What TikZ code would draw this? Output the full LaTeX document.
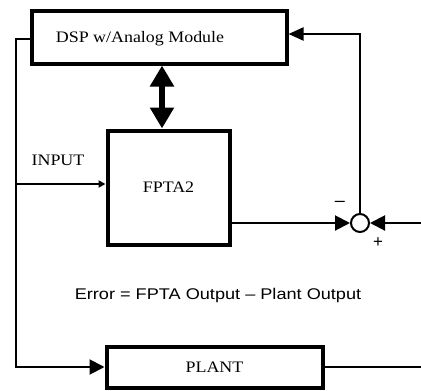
\documentclass[tikz,border=0pt]{standalone}
\usepackage{fontspec}
\setmainfont{Liberation Serif}
\newfontfamily\sansf{Liberation Sans}
\usetikzlibrary{arrows.meta}
\newcommand{\wtxt}[1]{\scalebox{1.12}[1]{#1}}
\begin{document}
\begin{tikzpicture}[x=1pt,y=-1pt,
  blk/.style={draw,line width=4pt,inner sep=0pt,font=\fontsize{16}{18}\selectfont},
  conn/.style={line width=2pt},
  bigtip/.style={-{Triangle[length=15pt,width=15pt]}},
  smalltip/.style={-{Triangle[length=7pt,width=7pt]}},
  lbl/.style={inner sep=0pt,font=\fontsize{16}{18}\selectfont}]
\useasboundingbox[fill=white] (0,0) rectangle (421,391);
% blocks
\node[blk,minimum width=255pt,minimum height=53pt] (dsp) at (159,37) {};
\node[lbl] (dsptxt) at (140,39) {\wtxt{DSP w/Analog Module}};
\node[blk,minimum width=122pt,minimum height=114pt] (fpta) at (168.5,187.5) {\wtxt{FPTA2}};
\node[blk,minimum width=216pt,minimum height=41pt] (plant) at (214.5,367) {\wtxt{PLANT}};
\node[draw,circle,line width=2pt,minimum size=18pt,inner sep=0pt] (sum) at (360,223) {};
% labels
\node[lbl] (inlbl) at (58,160) {\wtxt{INPUT}};
\node[lbl,font=\sansf\fontsize{15.5}{18}\selectfont] (err) at (218,295) {\scalebox{1.17}[1]{Error = FPTA Output \textendash{} Plant Output}};
\node[lbl,font=\sansf\fontsize{18}{18}\selectfont] (minus) at (340,204) {\textendash};
\node[lbl,font=\sansf\fontsize{17}{18}\selectfont] (plus) at (378,243) {+};
% coordinates
\coordinate (lft) at (16,39);
\coordinate (inp) at (16,184);
\coordinate (outy) at (0,223);
\coordinate (re) at (421,223);
\coordinate (topy) at (0,34);
\coordinate (da) at (162,0);
% connectors
\draw[conn,bigtip] (dsp.west |- lft) -- (lft) -- (lft |- plant.west) -- (plant.west);
\draw[conn,smalltip] (inp) -- (fpta.west |- inp);
\draw[conn,bigtip] (fpta.east |- outy) -- (sum.west);
\draw[conn,bigtip] (re) -- (sum.east);
\draw[conn] (plant.east) -- (plant.east -| re);
\draw[conn,-{Triangle[length=15pt,width=13pt]}] (sum.north) -- (sum.north |- topy) -- (dsp.east |- topy);
\draw[line width=6pt,{Triangle[length=21pt,width=23pt]}-{Triangle[length=21pt,width=23pt]}] (dsp.south -| da) -- (fpta.north -| da);
\end{tikzpicture}
\end{document}
